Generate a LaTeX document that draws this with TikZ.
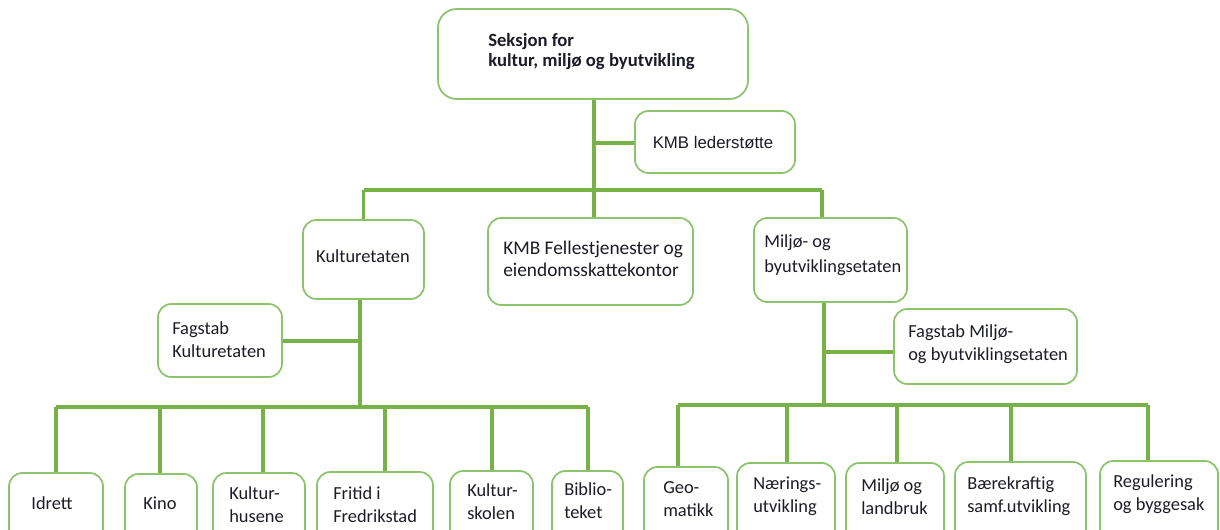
\documentclass[tikz,border=0pt]{standalone}
\usepackage{fontspec}
\setmainfont{Carlito}
\newfontfamily\arialfont{Liberation Sans}
\usetikzlibrary{fit,backgrounds}
\definecolor{linegreen}{RGB}{118,178,72}
\definecolor{boxgreen}{RGB}{140,196,110}
\definecolor{txtcol}{RGB}{28,28,40}
\tikzset{
  obox/.style={draw=boxgreen, line width=1.3pt, rounded corners=10pt, inner sep=0pt, fill=white},
  bigbox/.style={obox, rounded corners=14pt},
  conn/.style={draw=linegreen, line width=2.3pt},
  txt/.style={text=txtcol, align=left, inner sep=0pt, font=\fontsize{13.8}{17}\selectfont},
}
\newcommand{\obox}[6][obox]{\node[#1, fit={(#3,#4) (#5,#6)}] (#2) {};}
\begin{document}
\begin{tikzpicture}[x=0.75pt, y=-0.75pt]
\useasboundingbox (0,0) rectangle (1220,529);
\clip (0,0) rectangle (1220,529);

% junction coordinates
\coordinate (mainbar) at (594,190);
\coordinate (lederj) at (594,143);
\coordinate (kbarr) at (360,407);
\coordinate (kfagj) at (360,341);
\coordinate (mbarr) at (824,405);
\coordinate (mfagj) at (824,352);

% boxes
\obox[bigbox]{top}{438}{9}{748}{99}
\obox{leder}{635}{111}{795}{173}
\obox{kult}{303}{220}{424}{299}
\obox{fell}{488}{218}{693}{305}
\obox{milj}{754}{218}{907}{302}
\obox{kfag}{158}{304}{282}{377}
\obox{mfag}{894}{309}{1077}{384}
\obox{idrett}{9}{473}{103}{548}
\obox{kino}{125}{474}{197}{548}
\obox{khus}{213}{473}{305}{548}
\obox{fritid}{317}{472}{433}{548}
\obox{kskol}{450}{471}{533}{548}
\obox{bibl}{552}{471}{623}{548}
\obox{geo}{644}{467}{728}{548}
\obox{naer}{737}{463}{835}{548}
\obox{mland}{846}{463}{944}{548}
\obox{baer}{955}{462}{1086}{548}
\obox{reg}{1100}{461}{1218}{548}

\begin{scope}[on background layer]
\fill[white] (0,0) rectangle (1220,529);
% main trunk
\draw[conn] (top.south -| mainbar) -- (fell.north -| mainbar);
\draw[conn] (lederj) -- (leder.west |- lederj);
\draw[conn] (mainbar -| kult.north) -- (mainbar -| 822,0);
\draw[conn] (mainbar -| kult.north) -- (kult.north);
\draw[conn] (mainbar -| 822,0) -- (milj.north -| 822,0);
% culture branch
\draw[conn] (kult.south -| kbarr) -- (kbarr);
\draw[conn] (kfagj) -- (kfag.east |- kfagj);
\draw[conn] (kbarr -| 56,0) -- (kbarr -| 588,0);
\foreach \xx/\nn in {56/idrett,160/kino,263/khus,385/fritid,492/kskol,588/bibl}
  \draw[conn] (kbarr -| \xx,0) -- (\nn.north -| \xx,0);
% environment branch
\draw[conn] (milj.south -| mbarr) -- (mbarr);
\draw[conn] (mfagj) -- (mfag.west |- mfagj);
\draw[conn] (mbarr -| 678,0) -- (mbarr -| 1148,0);
\foreach \xx/\nn in {678/geo,787/naer,897/mland,1011/baer,1148/reg}
  \draw[conn] (mbarr -| \xx,0) -- (\nn.north -| \xx,0);
\end{scope}

% ---- texts ----
\node[txt, anchor=west, font=\bfseries\fontsize{14}{15}\selectfont] (top-t) at (488,52) {Seksjon for\\kultur, miljø og byutvikling};
\node[txt, font=\arialfont\fontsize{12.6}{15}\selectfont] (leder-t) at (713,143) {KMB lederstøtte};
\node[txt] (kult-t) at (363,256) {Kulturetaten};
\node[txt, anchor=west, font=\fontsize{14.5}{16.5}\selectfont] (fell-t) at (503,259) {KMB Fellestjenester og\\eiendomsskattekontor};
\node[txt, anchor=west, font=\fontsize{13.8}{18.7}\selectfont] (milj-t) at (764,255) {Miljø- og\\byutviklingsetaten};
\node[txt, anchor=west] (kfag-t) at (172,340) {Fagstab\\Kulturetaten};
\node[txt, anchor=west] (mfag-t) at (908,344.5) {Fagstab Miljø-\\og byutviklingsetaten};
\node[txt] (idrett-t) at (52,503) {Idrett};
\node[txt] (kino-t) at (160,503) {Kino};
\node[txt, anchor=west] (khus-t) at (229,504.5) {Kultur-\\husene};
\node[txt, anchor=west] (fritid-t) at (333,504.5) {Fritid i\\Fredrikstad};
\node[txt, anchor=west] (kskol-t) at (467,501.5) {Kultur-\\skolen};
\node[txt, anchor=west] (bibl-t) at (564,501) {Biblio-\\teket};
\node[txt, anchor=west] (geo-t) at (663,499) {Geo-\\matikk};
\node[txt, anchor=west] (naer-t) at (753,496) {Nærings-\\utvikling};
\node[txt, anchor=west] (mland-t) at (861,496.5) {Miljø og\\landbruk};
\node[txt, anchor=west] (baer-t) at (967,496.5) {Bærekraftig\\samf.utvikling};
\node[txt, anchor=west] (reg-t) at (1113,494) {Regulering\\og byggesak};
\end{tikzpicture}
\end{document}
